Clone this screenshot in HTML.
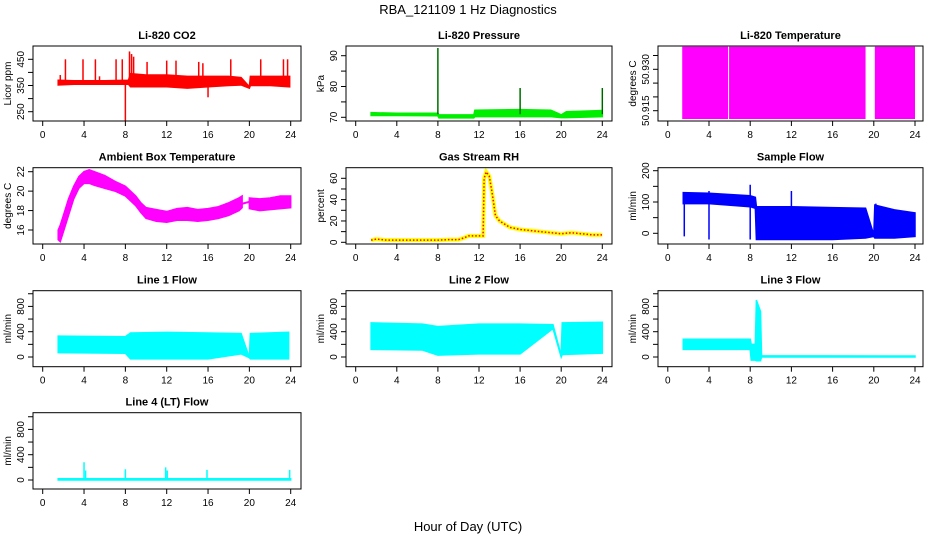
<!DOCTYPE html>
<html><head><meta charset="utf-8"><style>
body{margin:0;background:#fff}
svg{display:block;font-family:"Liberation Sans",sans-serif}
</style></head><body>
<svg id="c" width="936" height="540" viewBox="0 0 936 540">
<text x="468" y="14" text-anchor="middle" font-size="13">RBA_121109  1 Hz Diagnostics</text>
<text x="468" y="531" text-anchor="middle" font-size="13">Hour of Day (UTC)</text>
</svg>
<script>
// ---- data ----
const co2X=[1.5,3,6,8.3,8.5,10,12,14,16,18,19.2,20,20.1,22,23.9];
const co2Lo=[352,355,355,355,345,345,345,340,345,350,352,340,350,350,345];
const co2Hi=[370,368,368,370,395,390,390,385,385,385,380,345,385,385,385];
const co2SpX=[1.7,2.2,3.9,5.1,5.5,7.1,7.7,8.0,8.4,8.6,8.8,10.1,12,12.9,15.1,15.5,16,18.2,21.1,23.3,23.7];
const co2SpV=[390,450,450,450,385,450,450,215,480,470,460,440,445,445,440,435,305,450,450,450,450];

const prX=[1.5,4,8,8.1,11.5,11.6,16,19,20,20.5,24];
const prLo=[70.6,70.6,70.5,69.8,69.8,70.2,70.2,70.2,69.9,69.9,70.2];
const prHi=[71.5,71.3,71.3,70.8,70.8,72.3,72.5,72.3,70.8,71.8,72.2];
const prSpX=[8,16,24];
const prSpV=[92.5,79.5,79.5];

const tmpStart=[1.4,5.95,20.1];
const tmpEnd=[5.85,19.2,24];

const ambX=[1.5,1.7,2,2.5,3,3.5,4,4.5,5,6,7,8,9,9.5,10,11,12,13,14,15,16,17,18,19,19.3,null,20,21,22,23,24];
const ambLo=[15,14.8,15.8,17.5,19.2,20.3,20.8,20.8,20.6,20.3,20,19.5,18.5,17.8,17.2,16.9,16.8,17,17,16.9,17,17.2,17.5,18,18.3,null,18.2,18.0,18.1,18.2,18.3];
const ambHi=[16,16.5,17.5,19.2,20.5,21.5,22,22.2,22,21.6,21,20.5,19.5,18.8,18.3,18.1,17.9,18.2,18.3,18.1,18.2,18.4,18.8,19.3,19.5,null,19.3,19.2,19.3,19.5,19.5];
const ambGapX=[19.3,20];
const ambGapV=[18.7,18.9];

const rhX=[1.5,2,3,4,6,8,9,10,10.5,11,12,12.4,12.5,12.7,13,13.3,13.6,14,15,16,18,19,20,21,22,23,24];
const rhV=[2,3,2,2,2,2,2.5,2.5,4,6,6,6,60,66,62,45,25,20,14,12,10,9,8,9,8,7,7];

const sfX=[1.5,4,8,8.5,8.6,12,16,19.2,20,20.1,22,24];
const sfLo=[95,95,85,80,-20,-20,-20,-15,-10,-15,-15,-10];
const sfHi=[130,128,120,115,85,85,82,80,-5,90,75,65];
const sfSpX=[1.6,4,8,12,20.2];
const sfSpLo=[-10,-20,-20,60,60];
const sfSpHi=[110,135,155,135,95];

const l1X=[1.5,8,8.5,12,16,19.2,20,20.1,23.8];
const l1Lo=[70,60,-30,-30,-30,50,-10,-30,-30];
const l1Hi=[330,320,380,390,380,370,-10,370,390];
const l2X=[1.5,6.5,8,12,16,19.2,20,20.1,24];
const l2Lo=[120,110,30,50,50,450,0,40,60];
const l2Hi=[540,520,480,520,520,510,20,540,550];
const l3X=[1.5,8,8.1,8.5,8.6,9,9.1,24];
const l3Lo=[120,120,-50,-50,-60,-60,0,0];
const l3Hi=[280,280,200,200,900,720,20,15];
const l4X=[1.5,24];
const l4Lo=[0,0];
const l4Hi=[20,20];
const l4SpX=[4,4.15,8,11.9,12.05,15.9,23.9];
const l4SpV=[280,150,170,200,150,160,160];

const svg=document.getElementById('c');
const NS='http://www.w3.org/2000/svg';
function mk(tag,at,parent){const e=document.createElementNS(NS,tag);for(const k in at)e.setAttribute(k,at[k]);(parent||svg).appendChild(e);return e;}

const cols=[{L:33,R:301,x0:42.7,x24:290.7},{L:346,R:612,x0:355.7,x24:602.3},{L:658,R:923,x0:667.8,x24:915}];
const rows=[{T:46,B:121},{T:167.7,B:244},{T:290.7,B:366.7},{T:412.7,B:489}];

function panel(name,title,ylab,c,r,v1,p1,v2,p2,ticks,labels){
  const C=cols[c],R=rows[r];
  const g=mk('g',{});
  
  
  const cp=mk('clipPath',{id:'cp'+name},g);
  mk('rect',{x:C.L,y:R.T,width:C.R-C.L,height:R.B-R.T},cp);
  const plot=mk('g',{'clip-path':'url(#cp'+name+')'},g);
  
  
  const p={g,plot,x:h=>C.x0+(C.x24-C.x0)*h/24,y:v=>p1+(v-v1)*(p2-p1)/(v2-v1),C,R};
  const bx=mk('rect',{x:C.L,y:R.T,width:C.R-C.L,height:R.B-R.T,fill:'none',stroke:'#000','stroke-width':1},g);
  
  
  const t=mk('text',{x:(C.L+C.R)/2,y:R.T-7,'text-anchor':'middle','font-size':11,'font-weight':'bold'},g);
  t.textContent=title;
  
  
  for(let h=0;h<=24;h+=4){
    const tk=mk('line',{x1:p.x(h),x2:p.x(h),y1:R.B,y2:R.B+5,stroke:'#000'},g);
    
    
    const tl=mk('text',{x:p.x(h),y:R.B+17,'text-anchor':'middle','font-size':10},g);
    tl.textContent=h;
    
    
  }
  ticks.forEach(v=>{
    const yy=p.y(v);
    const tk=mk('line',{x1:C.L-5,x2:C.L,y1:yy,y2:yy,stroke:'#000'},g);
    
    
  });
  labels.forEach(v=>{
    const yy=p.y(v);
    const tl=mk('text',{x:0,y:0,'text-anchor':'middle','font-size':10,transform:`translate(${C.L-9},${yy}) rotate(-90)`},g);
    tl.textContent=v;
    
    
  });
  const yl=mk('text',{x:0,y:0,'text-anchor':'middle','font-size':10,transform:`translate(${C.L-22},${(R.T+R.B)/2}) rotate(-90)`},g);
  yl.textContent=ylab;
  
  
  return p;
}

function band(p,xs,lo,hi,color,name){
  let seg=[];
  const flush=()=>{
    if(seg.length<2){seg=[];return;}
    const pts=seg.map(i=>p.x(xs[i])+','+p.y(hi[i])).concat(seg.slice().reverse().map(i=>p.x(xs[i])+','+p.y(lo[i])));
    const e=mk('polygon',{points:pts.join(' '),fill:color,stroke:color,'stroke-width':1.5},p.plot);
    
    
    seg=[];
  };
  xs.forEach((x,i)=>{if(x===null)flush();else seg.push(i);});
  flush();
}
function spikes(p,xs,lo,hi,color,name,w){
  xs.forEach((x,i)=>{
    const e=mk('line',{x1:p.x(x),x2:p.x(x),y1:p.y(lo[i]),y2:p.y(hi[i]),stroke:color,'stroke-width':w||1.5},p.plot);
    
    
  });
}
function line(p,xs,vs,color,w,name,dash){
  const e=mk('polyline',{points:xs.map((x,i)=>p.x(x)+','+p.y(vs[i])).join(' '),fill:'none',stroke:color,'stroke-width':w,'stroke-dasharray':dash||'none'},p.plot);
  
  
}

// CO2
let p=panel('co2','Li-820 CO2','Licor ppm',0,0,250,111.7,450,59.3,[250,300,350,400,450],[250,350,450]);
band(p,co2X,co2Lo,co2Hi,'#ff0000','co2-band');
spikes(p,co2SpX,co2SpX.map(()=>360),co2SpV,'#ff0000','co2-spike');
// Pressure
p=panel('pressure','Li-820 Pressure','kPa',1,0,70,117.3,90,55.7,[70,75,80,85,90],[70,80,90]);
band(p,prX,prLo,prHi,'#00ee00','pressure-band');
spikes(p,prSpX,prSpX.map(()=>71),prSpV,'#00cc00','pressure-spike');
spikes(p,prSpX,prSpX.map(()=>71),prSpV,'#004400','pressure-spike-dots',1);
// Temperature
p=panel('licor-temp','Li-820 Temperature','degrees C',2,0,50.915,110.7,50.930,69.3,[50.915,50.920,50.925,50.930,50.935],['50.915','50.930']);
tmpStart.forEach((s,i)=>{
  const e=mk('rect',{x:p.x(s),y:46.7,width:p.x(tmpEnd[i])-p.x(s),height:72.3,fill:'#ff00ff'},p.plot);
  
  
});
// Ambient
p=panel('ambient','Ambient Box Temperature','degrees C',0,1,16,230,22,171.7,[16,18,20,22],[16,18,20,22]);
band(p,ambX,ambLo,ambHi,'#ff00ff','ambient-band');
line(p,ambGapX,ambGapV,'#ff00ff',2,'ambient-gap-line');
// RH
p=panel('rh','Gas Stream RH','percent',1,1,0,242.3,60,178.3,[0,10,20,30,40,50,60],[0,20,40,60]);
line(p,rhX,rhV,'#ffff00',4,'rh-line');
line(p,rhX,rhV,'#ff0000',1.5,'rh-points','1.5 2');
// Sample flow
p=panel('sample-flow','Sample Flow','ml/min',2,1,0,233.3,200,170.7,[0,50,100,150,200],[0,100,200]);
band(p,sfX,sfLo,sfHi,'#0000ff','sample-flow-band');
spikes(p,sfSpX,sfSpLo,sfSpHi,'#0000ff','sample-flow-spike');
// Line flows
const lt=[0,200,400,600,800,1000],ll=[0,400,800];
p=panel('line1','Line 1 Flow','ml/min',0,2,0,357,400,331.7,lt,ll);
band(p,l1X,l1Lo,l1Hi,'#00ffff','line1-band');
p=panel('line2','Line 2 Flow','ml/min',1,2,0,357,400,331.7,lt,ll);
band(p,l2X,l2Lo,l2Hi,'#00ffff','line2-band');
p=panel('line3','Line 3 Flow','ml/min',2,2,0,357,400,331.7,lt,ll);
band(p,l3X,l3Lo,l3Hi,'#00ffff','line3-band');
p=panel('line4','Line 4 (LT) Flow','ml/min',0,3,0,480,400,454.7,lt,ll);
band(p,l4X,l4Lo,l4Hi,'#00ffff','line4-band');
spikes(p,l4SpX,l4SpX.map(()=>10),l4SpV,'#00ffff','line4-spike');
</script>
</body></html>
